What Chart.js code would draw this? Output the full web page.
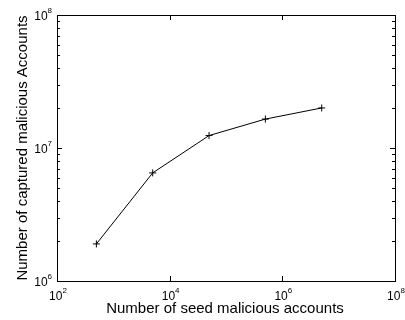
<!DOCTYPE html>
<html>
<head>
<meta charset="utf-8">
<script src="https://cdn.jsdelivr.net/npm/chart.js@4"></script>
<style>
  html, body { margin: 0; padding: 0; background: #fff; }
  #wrap { width: 405px; height: 320px; }
</style>
</head>
<body>
<div id="wrap"><canvas id="seedChart"></canvas></div>
<script>
// seed malicious accounts vs captured malicious accounts
var seedAccounts = [500, 5000, 50000, 500000, 5000000];
var capturedAccounts = [1.9e6, 6.5e6, 1.24e7, 1.65e7, 2.0e7];
var xTickExps = [2, 4, 6, 8];
var yTickExps = [6, 7, 8];

var xTitle = "Number of seed malicious accounts";
var yTitle = "Number of captured malicious Accounts";

var fontFamily = "'Liberation Sans', Arial, sans-serif";

function drawPower(ctx, exp, x, y, align) {
  // "10" with a raised exponent
  ctx.font = "12px " + fontFamily;
  var baseW = ctx.measureText("10").width;
  ctx.font = "8px " + fontFamily;
  var expW = ctx.measureText(String(exp)).width;
  var total = baseW + expW;
  var left = align === "right" ? x - total : x - total / 2;
  ctx.textAlign = "left";
  ctx.textBaseline = "middle";
  ctx.font = "12px " + fontFamily;
  ctx.fillText("10", left, y);
  ctx.font = "8px " + fontFamily;
  ctx.fillText(String(exp), left + baseW, y - 6);
}

var matlabAxes = {
  id: "matlabAxes",
  afterDraw: function (chart) {
    var ctx = chart.ctx;
    var a = chart.chartArea;
    var xs = chart.scales.x;
    var ys = chart.scales.y;
    ctx.save();
    ctx.strokeStyle = "#000";
    ctx.fillStyle = "#000";
    ctx.lineWidth = 1;

    // box
    ctx.strokeRect(Math.round(a.left) + 0.5, Math.round(a.top) + 0.5,
      Math.round(a.right - a.left), Math.round(a.bottom - a.top));

    ctx.beginPath();
    // x major ticks, inward on bottom and top
    xTickExps.forEach(function (e) {
      var px = Math.round(xs.getPixelForValue(Math.pow(10, e))) + 0.5;
      ctx.moveTo(px, a.bottom); ctx.lineTo(px, a.bottom - 5);
      ctx.moveTo(px, a.top); ctx.lineTo(px, a.top + 5);
    });
    // y major + minor ticks, inward on left and right
    for (var e = yTickExps[0]; e <= yTickExps[yTickExps.length - 1]; e++) {
      var top = e === yTickExps[yTickExps.length - 1] ? 1 : 9;
      for (var m = 1; m <= top; m++) {
        var py = Math.round(ys.getPixelForValue(m * Math.pow(10, e))) + 0.5;
        var len = m === 1 ? 5 : 3;
        ctx.moveTo(a.left, py); ctx.lineTo(a.left + len, py);
        ctx.moveTo(a.right, py); ctx.lineTo(a.right - len, py);
      }
    }
    ctx.stroke();

    // tick labels
    xTickExps.forEach(function (e) {
      drawPower(ctx, e, xs.getPixelForValue(Math.pow(10, e)) + 1, a.bottom + 16, "center");
    });
    yTickExps.forEach(function (e) {
      drawPower(ctx, e, a.left - 5, ys.getPixelForValue(Math.pow(10, e)) + 2, "right");
    });

    // axis titles
    ctx.font = "15px " + fontFamily;
    ctx.textAlign = "center";
    ctx.textBaseline = "middle";
    ctx.fillText(xTitle, (a.left + a.right) / 2 - 1, a.bottom + 28);
    ctx.translate(23, (a.top + a.bottom) / 2);
    ctx.rotate(-Math.PI / 2);
    ctx.fillText(yTitle, 0, 0);
    ctx.restore();
  }
};

var points = seedAccounts.map(function (v, i) {
  return { x: v, y: capturedAccounts[i] };
});

var ctx = document.getElementById("seedChart");
var myChart = new Chart(ctx, {
  type: "line",
  data: {
    datasets: [{
      label: "captured",
      data: points,
      borderColor: "#000",
      backgroundColor: "#000",
      borderWidth: 1,
      pointStyle: "cross",
      pointRadius: 3.5,
      pointBorderWidth: 1,
      pointBorderColor: "#000",
      tension: 0,
      fill: false
    }]
  },
  options: {
    responsive: true,
    maintainAspectRatio: false,
    animation: false,
    layout: { padding: { left: 57, right: 10, top: 15, bottom: 39 } },
    plugins: {
      legend: { display: false },
      tooltip: { enabled: false }
    },
    scales: {
      x: {
        type: "logarithmic",
        min: 1e2, max: 1e8,
        ticks: { display: false },
        grid: { display: false, drawTicks: false },
        border: { display: false }
      },
      y: {
        type: "logarithmic",
        min: 1e6, max: 1e8,
        ticks: { display: false },
        grid: { display: false, drawTicks: false },
        border: { display: false }
      }
    }
  },
  plugins: [matlabAxes]
});
</script>
</body>
</html>
